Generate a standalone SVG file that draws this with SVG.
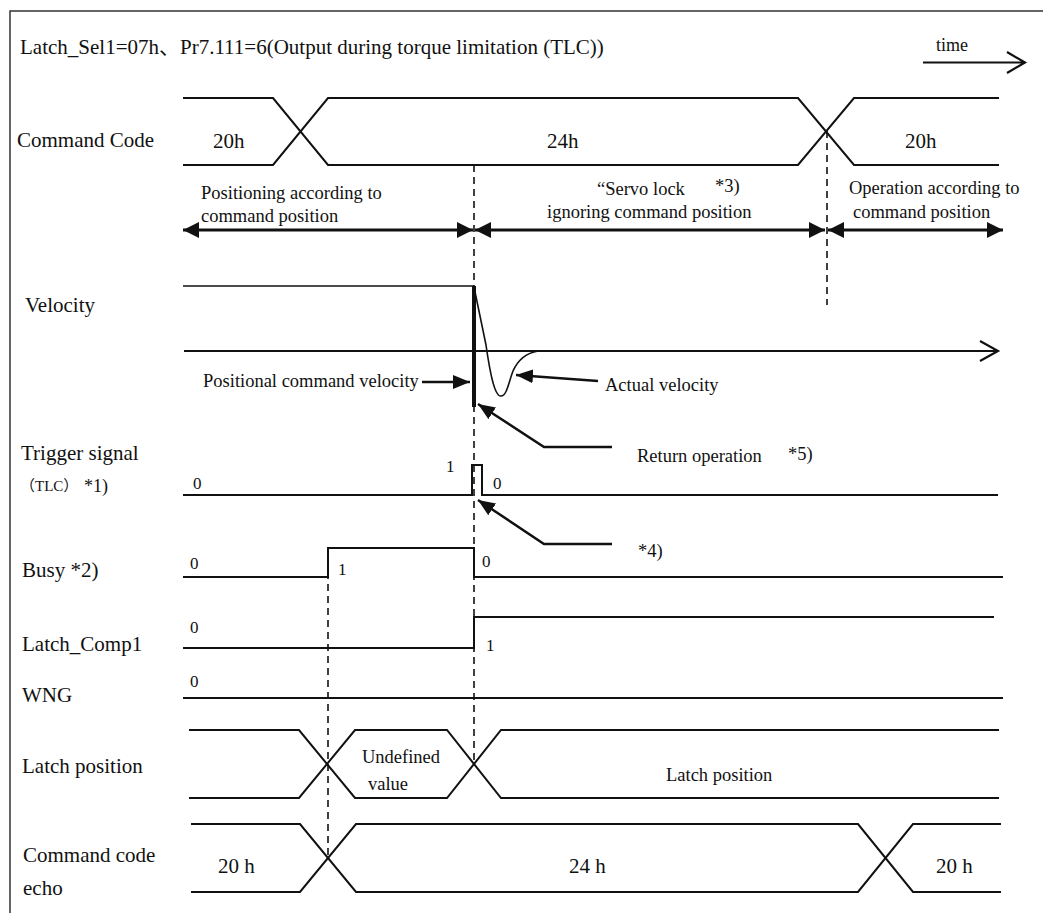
<svg xmlns="http://www.w3.org/2000/svg" width="1043" height="913" viewBox="0 0 1043 913">
<style>
text{font-family:"Liberation Serif","Noto Sans CJK JP",serif;fill:#111}
.lb{font-size:21px}
.sm{font-size:18.5px}
.v{font-size:17px}
.sig{fill:none;stroke:#111;stroke-width:2}
.dash{fill:none;stroke:#111;stroke-width:1.6;stroke-dasharray:7 5}
.ann{fill:none;stroke:#111;stroke-width:2.5}
.dbl{fill:none;stroke:#111;stroke-width:3}
</style>
<defs>
<marker id="ah" markerUnits="userSpaceOnUse" markerWidth="17" markerHeight="14" refX="17" refY="7" orient="auto"><path d="M0,0 L17,7 L0,14 z" fill="#111"/></marker>
<marker id="dh" markerUnits="userSpaceOnUse" markerWidth="16" markerHeight="16" refX="16" refY="8" orient="auto-start-reverse"><path d="M0,0 L16,8 L0,16 z" fill="#111"/></marker>
</defs>
<rect width="1043" height="913" fill="#fff"/>
<path d="M10,913 L10,11 L1043,11" fill="none" stroke="#333" stroke-width="1.5"/>

<g id="title">
<text class="lb" x="20" y="54">Latch_Sel1=07h、Pr7.111=6(Output during torque limitation (TLC))</text>
</g>
<g id="time-axis">
<text x="936" y="51" style="font-size:18px">time</text>
<path d="M923,62.5 L1025,62.5 M1007,52 L1025,62.5 L1007,73" fill="none" stroke="#111" stroke-width="2.2"/>
</g>

<g id="command-code">
<text class="lb" x="17" y="147">Command Code</text>
<path class="sig" d="M183,98 L273,98 L328,165 L798,165 L854,98 L999,98"/>
<path class="sig" d="M183,165 L273,165 L328,98 L798,98 L854,165 L999,165"/>
<text class="lb" x="213" y="148">20h</text>
<text class="lb" x="547" y="148">24h</text>
<text class="lb" x="905" y="148">20h</text>
</g>

<g id="phases">
<text class="sm" x="201" y="199">Positioning according to</text>
<text class="sm" x="201" y="222">command position</text>
<text class="sm" x="597" y="195">“Servo lock</text>
<text class="sm" x="715" y="192">*3)</text>
<text class="sm" x="547" y="218">ignoring command position</text>
<text class="sm" x="849" y="194">Operation according to</text>
<text class="sm" x="853" y="218">command position</text>
</g>

<g id="velocity">
<text class="lb" x="25" y="312">Velocity</text>
<path d="M183,286 L474,286" fill="none" stroke="#111" stroke-width="1.6"/>
<path d="M184,351 L998,351 M980,341 L998,351 L980,361" fill="none" stroke="#111" stroke-width="2.2"/>
<path d="M474,286 L474,407" fill="none" stroke="#111" stroke-width="4"/>
<path d="M474,287 L486,345 C489,366 494,397 501,396 C507,396 509,381 513,371 C518,360 526,353 538,351" fill="none" stroke="#111" stroke-width="1.6"/>
<text class="sm" x="203" y="387">Positional command velocity</text>
<text class="sm" x="605" y="391">Actual velocity</text>
<text class="sm" x="637" y="462">Return operation</text>
<text class="sm" x="788" y="460">*5)</text>
</g>

<g id="trigger">
<text class="lb" x="21" y="460">Trigger signal</text>
<text x="20" y="491" style="font-size:15px">（TLC）</text>
<text x="84" y="492" style="font-size:18px">*1)</text>
<path class="sig" d="M183,495 L472,495 L472,465 L482,465 L482,495 L998,495"/>
<text class="v" x="193" y="489">0</text>
<text class="v" x="446" y="472">1</text>
<text class="v" x="493" y="489">0</text>
<text class="sm" x="638" y="557">*4)</text>
</g>

<g id="busy">
<text class="lb" x="22" y="577">Busy *2)</text>
<path class="sig" d="M183,577 L328,577 L328,548 L474,548 L474,577 L1003,577"/>
<text class="v" x="190" y="569">0</text>
<text class="v" x="338" y="575">1</text>
<text class="v" x="482" y="567">0</text>
</g>

<g id="latch-comp1">
<text class="lb" x="22" y="651">Latch_Comp1</text>
<path class="sig" d="M183,648 L474,648 L474,617 L994,617"/>
<text class="v" x="190" y="633">0</text>
<text class="v" x="486" y="651">1</text>
</g>

<g id="wng">
<text class="lb" x="22" y="702">WNG</text>
<path class="sig" d="M183,698 L1003,698"/>
<text class="v" x="190" y="687">0</text>
</g>

<g id="latch-position">
<text class="lb" x="22" y="773">Latch position</text>
<path class="sig" d="M189,730 L299,730 L355,798 L447,798 L501,730 L999,730"/>
<path class="sig" d="M189,798 L299,798 L355,730 L447,730 L501,798 L999,798"/>
<text class="sm" x="362" y="763">Undefined</text>
<text class="sm" x="368" y="790">value</text>
<text class="sm" x="666" y="781">Latch position</text>
</g>

<g id="command-code-echo">
<text class="lb" x="23" y="862">Command code</text>
<text class="lb" x="23" y="895">echo</text>
<path class="sig" d="M191,824 L300,824 L356,892 L858,892 L913,824 L1001,824"/>
<path class="sig" d="M191,892 L300,892 L356,824 L858,824 L913,892 L1001,892"/>
<text class="lb" x="218" y="873">20 h</text>
<text class="lb" x="569" y="873">24 h</text>
<text class="lb" x="936" y="873">20 h</text>
</g>

<g id="connectors">
<path class="dash" d="M474,165 L474,763"/>
<path class="dash" d="M827,131 L827,305"/>
<path class="dash" d="M328,548 L328,857"/>
<path class="dbl" d="M183,230 L473,230" marker-start="url(#dh)" marker-end="url(#dh)"/>
<path class="dbl" d="M475,230 L825,230" marker-start="url(#dh)" marker-end="url(#dh)"/>
<path class="dbl" d="M828,230 L1003,230" marker-start="url(#dh)" marker-end="url(#dh)"/>
<path class="ann" d="M422,382 L470,382" marker-end="url(#ah)"/>
<path class="ann" d="M598,381 L516,375" marker-end="url(#ah)"/>
<path class="ann" d="M612,447 L544,447 L478,404" marker-end="url(#ah)"/>
<path class="ann" d="M612,544 L544,544 L478,500" marker-end="url(#ah)"/>
</g>
</svg>
